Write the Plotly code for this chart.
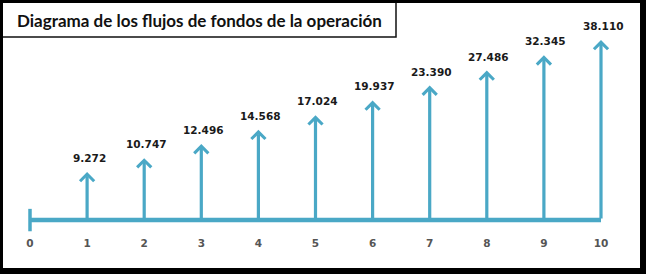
import math
import plotly.graph_objects as go

# ---- data ----
periods = [0, 1, 2, 3, 4, 5, 6, 7, 8, 9, 10]
flow_periods = [1, 2, 3, 4, 5, 6, 7, 8, 9, 10]
flows = [9272, 10747, 12496, 14568, 17024, 19937, 23390, 27486, 32345, 38110]
flow_labels = ["9.272", "10.747", "12.496", "14.568", "17.024",
               "19.937", "23.390", "27.486", "32.345", "38.110"]
tick_labels = [str(p) for p in periods]
title_text = "Diagrama de los flujos de fondos de la operación"

W, H = 651, 275
TEAL = "#4AA8C6"
BASE = 5540  # value at which the time line sits (diagram origin, log scale)

fig = go.Figure()

# time line
fig.add_trace(go.Scatter(
    x=[periods[0], periods[-1]], y=[BASE, BASE], mode="lines",
    line=dict(color=TEAL, width=4.5), hoverinfo="skip", showlegend=False))
# small tick at period 0
fig.add_trace(go.Scatter(
    x=[periods[0]], y=[BASE], mode="markers",
    marker=dict(symbol="line-ns", size=16, line=dict(color=TEAL, width=3.5)),
    hoverinfo="skip", showlegend=False))

annotations = []
for p, v, lab in zip(flow_periods, flows, flow_labels):
    annotations.append(dict(
        x=p, y=math.log10(v), ax=p, ay=math.log10(BASE),
        xref="x", yref="y", axref="x", ayref="y",
        text="", showarrow=True, arrowhead=4, arrowsize=0.85,
        arrowwidth=3.2, arrowcolor=TEAL, standoff=0, startstandoff=0))
    annotations.append(dict(
        x=p, y=math.log10(v), xref="x", yref="y", text=lab,
        showarrow=False, yshift=14, xshift=2, xanchor="center", yanchor="middle",
        font=dict(family="DejaVu Sans", size=10.5, color="#1a1a1a", weight="bold")))

# title
annotations.append(dict(
    x=199 / W, y=1 - 20 / H, xref="paper", yref="paper", text="<b>" + title_text + "</b>",
    showarrow=False, xanchor="center", yanchor="middle",
    font=dict(family="Lato", size=17, color="#111111")))


def rect(x0, y0, x1, y1, **kw):
    return dict(type="rect", xref="paper", yref="paper",
                x0=x0 / W, x1=x1 / W, y0=1 - y1 / H, y1=1 - y0 / H, **kw)


shapes = [
    rect(0, 0, 396, 37, line=dict(color="#111111", width=1.5), fillcolor="rgba(0,0,0,0)", layer="above"),
    rect(0, 0, 3, 274, line=dict(width=0), fillcolor="#000000", layer="above"),
    rect(0, 0, 646, 3, line=dict(width=0), fillcolor="#000000", layer="above"),
    rect(640, 0, 646, 274, line=dict(width=0), fillcolor="#000000", layer="above"),
    rect(0, 268, 646, 274, line=dict(width=0), fillcolor="#000000", layer="above"),
]

px_per_unit = 57.1
fig.update_layout(
    width=W, height=H, margin=dict(l=0, r=0, t=0, b=0),
    paper_bgcolor="white", plot_bgcolor="white",
    annotations=annotations, shapes=shapes,
    xaxis=dict(range=[-30 / px_per_unit, 10 + 50 / px_per_unit],
               tickvals=periods, ticktext=tick_labels, showgrid=False, zeroline=False,
               showline=False, ticks="", anchor="free", position=1 - 235 / H,
               tickfont=dict(family="DejaVu Sans", size=10.5, color="#555555", weight="bold")),
    yaxis=dict(type="log", range=[0.488 + 3, 1.767 + 3], showgrid=False, zeroline=False,
               showticklabels=False, showline=False, ticks=""),
    showlegend=False,
)

fig.write_html("out.html")
